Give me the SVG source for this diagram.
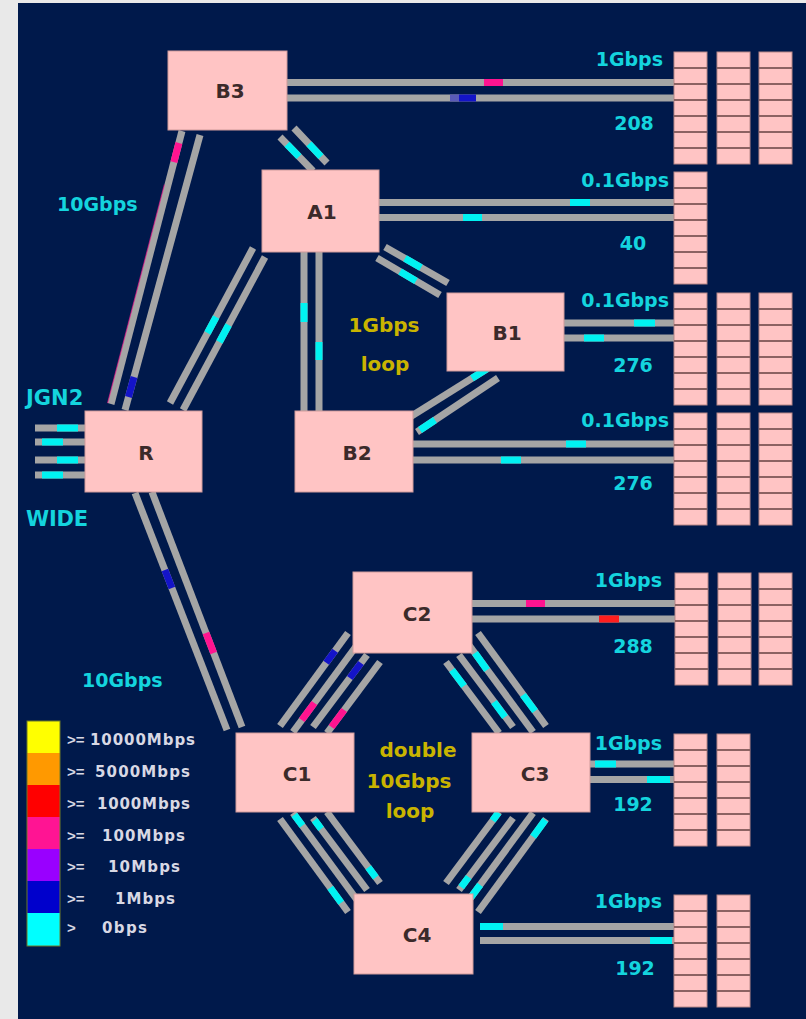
<svg xmlns="http://www.w3.org/2000/svg" width="806" height="1019" viewBox="0 0 806 1019">
<defs>
<style>
.ln{stroke:#a5a5a5;stroke-width:7;fill:none}
.cy{stroke:#00f2f2;stroke-width:7}
.mg{stroke:#ff1490;stroke-width:7}
.bl{stroke:#1414c8;stroke-width:7}
.rd{stroke:#ff1e1e;stroke-width:7}
.nd{fill:#ffc4c4;stroke:#cf9b9b;stroke-width:1}
.nt{font-family:"DejaVu Sans","Liberation Sans",sans-serif;font-weight:bold;font-size:20px;fill:#3b2a2a;text-anchor:middle}
.cl{font-family:"DejaVu Sans","Liberation Sans",sans-serif;font-weight:bold;font-size:19px;fill:#14d4de}
.big{font-size:21px}
.yl{font-family:"DejaVu Sans","Liberation Sans",sans-serif;font-weight:bold;font-size:20px;fill:#c9b400;text-anchor:middle}
.lg{font-family:"DejaVu Sans","Liberation Sans",sans-serif;font-weight:bold;font-size:15px;fill:#d8d8e4}
.op{font-family:"Liberation Sans",sans-serif;font-weight:bold;font-size:15px;fill:#d8d8e4}
.e{text-anchor:end}
.m{text-anchor:middle}
</style>
<g id="col">
<rect x="0" y="0" width="33" height="112" fill="#ffc4c4" stroke="#b88888" stroke-width="1"/>
<path d="M0 16H33M0 32H33M0 48H33M0 64H33M0 80H33M0 96H33" stroke="#8c6262" stroke-width="2"/>
</g>
</defs>
<rect width="806" height="1019" fill="#e9e9e9"/>
<rect x="18" y="3" width="788" height="1016" fill="#00194b"/>

<g id="connectors">
<!-- B3-R -->
<line class="ln" x1="182" y1="131" x2="111" y2="404"/>
<line x1="164.4" y1="184.7" x2="107.6" y2="403.1" stroke="#ff1490" stroke-width="1.2" opacity="0.6"/>
<line class="mg" x1="178.9" y1="143" x2="173.9" y2="162.1"/>
<line class="ln" x1="200" y1="135" x2="125" y2="410"/>
<line class="bl" x1="134" y1="377" x2="128.5" y2="397"/>
<!-- B3-A1 -->
<line class="ln" x1="280" y1="137" x2="313" y2="171"/>
<line class="cy" x1="287" y1="144.2" x2="299" y2="156.6"/>
<line class="ln" x1="294" y1="128" x2="327" y2="163"/>
<line class="cy" x1="309" y1="143.9" x2="321" y2="156.6"/>
<!-- A1-R -->
<line class="ln" x1="253" y1="248" x2="170" y2="403"/>
<line class="cy" x1="216.1" y1="317" x2="207.5" y2="333"/>
<line class="ln" x1="265" y1="257" x2="183" y2="410"/>
<line class="cy" x1="228.6" y1="325" x2="219.4" y2="342"/>
<!-- A1-B2 -->
<line class="ln" x1="304" y1="252" x2="304" y2="411"/>
<line class="cy" x1="304" y1="303" x2="304" y2="322"/>
<line class="ln" x1="319" y1="252" x2="319" y2="411"/>
<line class="cy" x1="319" y1="342" x2="319" y2="360"/>
<!-- A1-B1 -->
<line class="ln" x1="385" y1="247" x2="448" y2="283"/>
<line class="cy" x1="405" y1="258.4" x2="421" y2="267.6"/>
<line class="ln" x1="377" y1="258" x2="440" y2="295"/>
<line class="cy" x1="400" y1="271.5" x2="416" y2="280.9"/>
<!-- B1-B2 -->
<line class="ln" x1="410" y1="417" x2="490" y2="367"/>
<line class="cy" x1="472" y1="378.3" x2="487" y2="368.9"/>
<line class="ln" x1="417" y1="432" x2="498" y2="378"/>
<line class="cy" x1="420" y1="430" x2="435" y2="420"/>
<!-- R-C1 -->
<line class="ln" x1="135" y1="493" x2="227" y2="730"/>
<line class="bl" x1="164.9" y1="570" x2="171.9" y2="588"/>
<line class="ln" x1="152" y1="492" x2="242" y2="727"/>
<line class="mg" x1="206" y1="633" x2="213.7" y2="653"/>
<!-- R external (JGN2 / WIDE) -->
<line class="ln" x1="35" y1="428" x2="85" y2="428"/>
<line class="cy" x1="57" y1="428" x2="78" y2="428"/>
<line class="ln" x1="35" y1="442" x2="85" y2="442"/>
<line class="cy" x1="42" y1="442" x2="63" y2="442"/>
<line class="ln" x1="35" y1="460" x2="85" y2="460"/>
<line class="cy" x1="57" y1="460" x2="78" y2="460"/>
<line class="ln" x1="35" y1="475" x2="85" y2="475"/>
<line class="cy" x1="42" y1="475" x2="63" y2="475"/>
<!-- C1-C2 -->
<line class="ln" x1="280" y1="726" x2="348" y2="633"/>
<line class="bl" x1="326.2" y1="662.8" x2="335.1" y2="650.7"/>
<line class="ln" x1="293" y1="732" x2="360" y2="641"/>
<line class="mg" x1="301.8" y1="720" x2="314.4" y2="703"/>
<line class="ln" x1="313" y1="727" x2="367" y2="655"/>
<line class="bl" x1="349.8" y1="678" x2="361" y2="663"/>
<line class="ln" x1="327" y1="733" x2="380" y2="662"/>
<line class="mg" x1="331.5" y1="727" x2="344.2" y2="710"/>
<!-- C2-C3 -->
<line class="ln" x1="446" y1="662" x2="499" y2="733"/>
<line class="cy" x1="452" y1="670" x2="464" y2="686"/>
<line class="ln" x1="459" y1="655" x2="513" y2="727"/>
<line class="cy" x1="494" y1="702" x2="505" y2="717"/>
<line class="ln" x1="466" y1="641" x2="533" y2="732"/>
<line class="cy" x1="475" y1="653" x2="487" y2="670"/>
<line class="ln" x1="478" y1="633" x2="546" y2="726"/>
<line class="cy" x1="523" y1="695" x2="535" y2="711"/>
<!-- C1-C4 -->
<line class="ln" x1="280" y1="819" x2="348" y2="912"/>
<line class="cy" x1="330.3" y1="887.8" x2="341.2" y2="902.7"/>
<line class="ln" x1="293" y1="813" x2="360" y2="904"/>
<line class="cy" x1="294.3" y1="814.8" x2="302.4" y2="825.7"/>
<line class="ln" x1="313" y1="818" x2="367" y2="890"/>
<line class="cy" x1="314.6" y1="820.2" x2="321.1" y2="828.8"/>
<line class="ln" x1="327" y1="812" x2="380" y2="883"/>
<line class="cy" x1="368.3" y1="867.4" x2="375.8" y2="877.3"/>
<!-- C3-C4 -->
<line class="ln" x1="499" y1="812" x2="446" y2="883"/>
<line class="cy" x1="498.5" y1="812.7" x2="492.6" y2="820.5"/>
<line class="ln" x1="513" y1="818" x2="459" y2="890"/>
<line class="cy" x1="468.7" y1="877" x2="461.2" y2="887.1"/>
<line class="ln" x1="533" y1="813" x2="466" y2="904"/>
<line class="cy" x1="480.1" y1="884.9" x2="470.7" y2="897.6"/>
<line class="ln" x1="546" y1="819" x2="478" y2="912"/>
<line class="cy" x1="545.3" y1="819.9" x2="533.1" y2="836.7"/>
<!-- to racks -->
<line class="ln" x1="287" y1="82.5" x2="674" y2="82.5"/>
<line class="mg" x1="484" y1="82.5" x2="503" y2="82.5"/>
<line class="ln" x1="287" y1="98" x2="674" y2="98"/>
<line x1="450" y1="98" x2="460" y2="98" stroke="#5a5ab8" stroke-width="7"/>
<line class="bl" x1="459" y1="98" x2="476" y2="98"/>
<line class="ln" x1="379" y1="202.5" x2="674" y2="202.5"/>
<line class="cy" x1="570" y1="202.5" x2="590" y2="202.5"/>
<line class="ln" x1="379" y1="217.5" x2="674" y2="217.5"/>
<line class="cy" x1="463" y1="217.5" x2="482" y2="217.5"/>
<line class="ln" x1="564" y1="323" x2="674" y2="323"/>
<line class="cy" x1="634" y1="323" x2="655" y2="323"/>
<line class="ln" x1="564" y1="338" x2="674" y2="338"/>
<line class="cy" x1="584" y1="338" x2="604" y2="338"/>
<line class="ln" x1="413" y1="444" x2="674" y2="444"/>
<line class="cy" x1="566" y1="444" x2="586" y2="444"/>
<line class="ln" x1="413" y1="460" x2="674" y2="460"/>
<line class="cy" x1="501" y1="460" x2="521" y2="460"/>
<line class="ln" x1="472" y1="603.5" x2="675" y2="603.5"/>
<line class="mg" x1="526" y1="603.5" x2="545" y2="603.5"/>
<line class="ln" x1="472" y1="619" x2="675" y2="619"/>
<line class="rd" x1="599" y1="619" x2="619" y2="619"/>
<line class="ln" x1="590" y1="764" x2="675" y2="764"/>
<line class="cy" x1="595" y1="764" x2="616" y2="764"/>
<line class="ln" x1="590" y1="779.5" x2="675" y2="779.5"/>
<line class="cy" x1="647" y1="779.5" x2="670" y2="779.5"/>
<line class="ln" x1="480" y1="926.5" x2="674" y2="926.5"/>
<line class="cy" x1="480" y1="926.5" x2="503" y2="926.5"/>
<line class="ln" x1="480" y1="940.5" x2="674" y2="940.5"/>
<line class="cy" x1="650" y1="940.5" x2="672" y2="940.5"/>
</g>

<g id="node-B3"><rect class="nd" x="168" y="51" width="119" height="79"/><text class="nt" x="230" y="98">B3</text></g>
<g id="node-A1"><rect class="nd" x="262" y="170" width="117" height="82"/><text class="nt" x="322" y="219">A1</text></g>
<g id="node-B1"><rect class="nd" x="447" y="293" width="117" height="78"/><text class="nt" x="507" y="340">B1</text></g>
<g id="node-R"><rect class="nd" x="85" y="411" width="117" height="81"/><text class="nt" x="146" y="460">R</text></g>
<g id="node-B2"><rect class="nd" x="295" y="411" width="118" height="81"/><text class="nt" x="357" y="460">B2</text></g>
<g id="node-C2"><rect class="nd" x="353" y="572" width="119" height="81"/><text class="nt" x="417" y="621">C2</text></g>
<g id="node-C1"><rect class="nd" x="236" y="733" width="118" height="79"/><text class="nt" x="297" y="781">C1</text></g>
<g id="node-C3"><rect class="nd" x="472" y="733" width="118" height="79"/><text class="nt" x="535" y="781">C3</text></g>
<g id="node-C4"><rect class="nd" x="354" y="894" width="119" height="80"/><text class="nt" x="417" y="942">C4</text></g>

<g id="rack-B3"><use href="#col" x="674" y="52"/><use href="#col" x="717" y="52"/><use href="#col" x="759" y="52"/></g>
<g id="rack-A1"><use href="#col" x="674" y="172"/></g>
<g id="rack-B1"><use href="#col" x="674" y="293"/><use href="#col" x="717" y="293"/><use href="#col" x="759" y="293"/></g>
<g id="rack-B2"><use href="#col" x="674" y="413"/><use href="#col" x="717" y="413"/><use href="#col" x="759" y="413"/></g>
<g id="rack-C2"><use href="#col" x="675" y="573"/><use href="#col" x="718" y="573"/><use href="#col" x="759" y="573"/></g>
<g id="rack-C3"><use href="#col" x="674" y="734"/><use href="#col" x="717" y="734"/></g>
<g id="rack-C4"><use href="#col" x="674" y="895"/><use href="#col" x="717" y="895"/></g>

<g id="labels">
<text class="cl e" x="663" y="66">1Gbps</text>
<text class="cl m" x="634" y="130">208</text>
<text class="cl e" x="669" y="187">0.1Gbps</text>
<text class="cl m" x="633" y="250">40</text>
<text class="cl e" x="669" y="307">0.1Gbps</text>
<text class="cl m" x="633" y="372">276</text>
<text class="cl e" x="669" y="427">0.1Gbps</text>
<text class="cl m" x="633" y="490">276</text>
<text class="cl e" x="662" y="587">1Gbps</text>
<text class="cl m" x="633" y="653">288</text>
<text class="cl e" x="662" y="750">1Gbps</text>
<text class="cl m" x="633" y="811">192</text>
<text class="cl e" x="662" y="908">1Gbps</text>
<text class="cl m" x="635" y="975">192</text>
<text class="cl" x="57" y="211">10Gbps</text>
<text class="cl big" x="26" y="405">JGN2</text>
<text class="cl big" x="26" y="526" textLength="62">WIDE</text>
<text class="cl" x="82" y="687">10Gbps</text>
<text class="yl" x="384" y="332">1Gbps</text>
<text class="yl" x="385" y="371">loop</text>
<text class="yl" x="418" y="757">double</text>
<text class="yl" x="409" y="788">10Gbps</text>
<text class="yl" x="410" y="818">loop</text>
</g>

<g id="legend">
<rect x="27" y="721" width="33" height="32" fill="#ffff00"/>
<rect x="27" y="753" width="33" height="32" fill="#ff9900"/>
<rect x="27" y="785" width="33" height="32" fill="#ff0000"/>
<rect x="27" y="817" width="33" height="32" fill="#ff1493"/>
<rect x="27" y="849" width="33" height="32" fill="#9900ff"/>
<rect x="27" y="881" width="33" height="32" fill="#0000cc"/>
<rect x="27" y="913" width="33" height="33" fill="#00ffff"/>
<rect x="27" y="721" width="33" height="225" fill="none" stroke="#6d7a28" stroke-width="1"/>
<text class="op" x="67" y="745">&gt;=</text><text class="lg" x="90" y="745" textLength="105">10000Mbps</text>
<text class="op" x="67" y="777">&gt;=</text><text class="lg" x="95" y="777" textLength="95">5000Mbps</text>
<text class="op" x="67" y="809">&gt;=</text><text class="lg" x="97" y="809" textLength="93">1000Mbps</text>
<text class="op" x="67" y="841">&gt;=</text><text class="lg" x="102" y="841" textLength="83">100Mbps</text>
<text class="op" x="67" y="872">&gt;=</text><text class="lg" x="108" y="872" textLength="72">10Mbps</text>
<text class="op" x="67" y="904">&gt;=</text><text class="lg" x="115" y="904" textLength="60">1Mbps</text>
<text class="op" x="67" y="933">&gt;</text><text class="lg" x="102" y="933" textLength="45">0bps</text>
</g>
</svg>
